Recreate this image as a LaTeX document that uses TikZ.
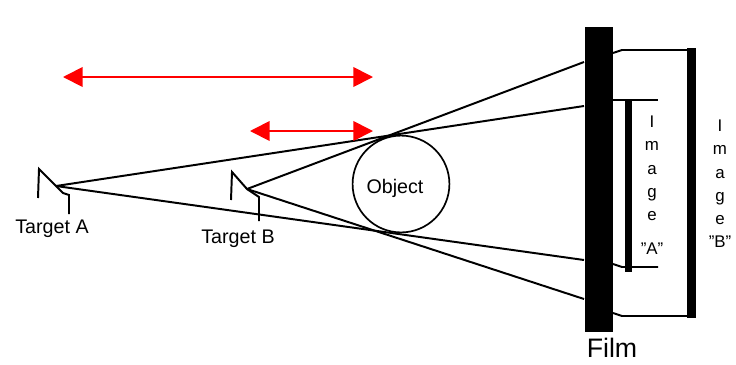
\documentclass[tikz,border=0pt]{standalone}
\usepackage{fontspec}
\setmainfont{Liberation Sans}
\usetikzlibrary{arrows.meta}

\tikzset{
    ray/.style={line width=1.4pt},
    span/.style={red, line width=1.3pt,
        {Triangle[length=14pt,width=14pt]}-{Triangle[length=14pt,width=14pt]}},
    lbl/.style={font=\fontsize{14}{16}\selectfont, inner sep=0pt, anchor=base},
    imgtxt/.style={font=\fontsize{12}{16.4}\selectfont, align=center, inner sep=0pt, anchor=north}
}

\begin{document}
\begin{tikzpicture}[x=0.025cm, y=-0.025cm]
    \useasboundingbox (0,0) rectangle (736,364);

    % Targets
    \coordinate (srcA) at (56,186);
    \coordinate (srcB) at (247,189);
    \draw[ray] (38,198) -- (39,169) -- (srcA) -- (63,193) -- (69,195) -- (69,214);
    \draw[ray] (231,200) -- (232,172) -- (srcB) -- (253,193) -- (259,197) -- (259,221);
    \node[lbl] (labA) at (52,233) {Target A};
    \node[lbl] (labB) at (238,243) {Target B};

    % Object
    \node[draw, circle, line width=1.2pt, minimum size=2.42cm, inner sep=0pt] (obj) at (401,184) {};
    \node[lbl] (objtxt) at (395,193) {Object};

    % Film
    \node[fill=black, minimum width=0.7cm, minimum height=7.625cm, inner sep=0pt] (film) at (599,179.5) {};
    \node[font=\fontsize{19}{22}\selectfont, inner sep=0pt] (filmlbl) at (612,348) {Film};

    % Rays
    \coordinate (hitB1) at (584,62);
    \coordinate (hitA1) at (584,106);
    \coordinate (hitA2) at (584,260);
    \coordinate (hitB2) at (584,299);
    \draw[ray] (srcA) -- (hitA1);
    \draw[ray] (srcA) -- (hitA2);
    \draw[ray] (srcB) -- (hitB1);
    \draw[ray] (srcB) -- (hitB2);

    % Images behind the film
    \draw[ray] (613,53) -- (622,50) -- (688,50);
    \draw[ray] (613,100) -- (658,100);
    \draw[ray] (613,264) -- (622,267) -- (658,267);
    \draw[ray] (613,313) -- (622,316) -- (688,316);
    \fill (625,99) rectangle (632,272);
    \fill (687,48) rectangle (696,318);
    \node[imgtxt] (imgA) at (652,116) {I\\m\\a\\g\\e\\[8pt]{\char34}A{\char34}};
    \node[imgtxt] (imgB) at (720,120) {I\\m\\a\\g\\e\\{\char34}B{\char34}};

    % Distances
    \coordinate (farL) at (63,77);
    \coordinate (farR) at (373,77);
    \coordinate (nearL) at (250,131);
    \coordinate (nearR) at (373,131);
    \draw[span] (farL) -- (farR);
    \draw[span] (nearL) -- (nearR);

\end{tikzpicture}
\end{document}
